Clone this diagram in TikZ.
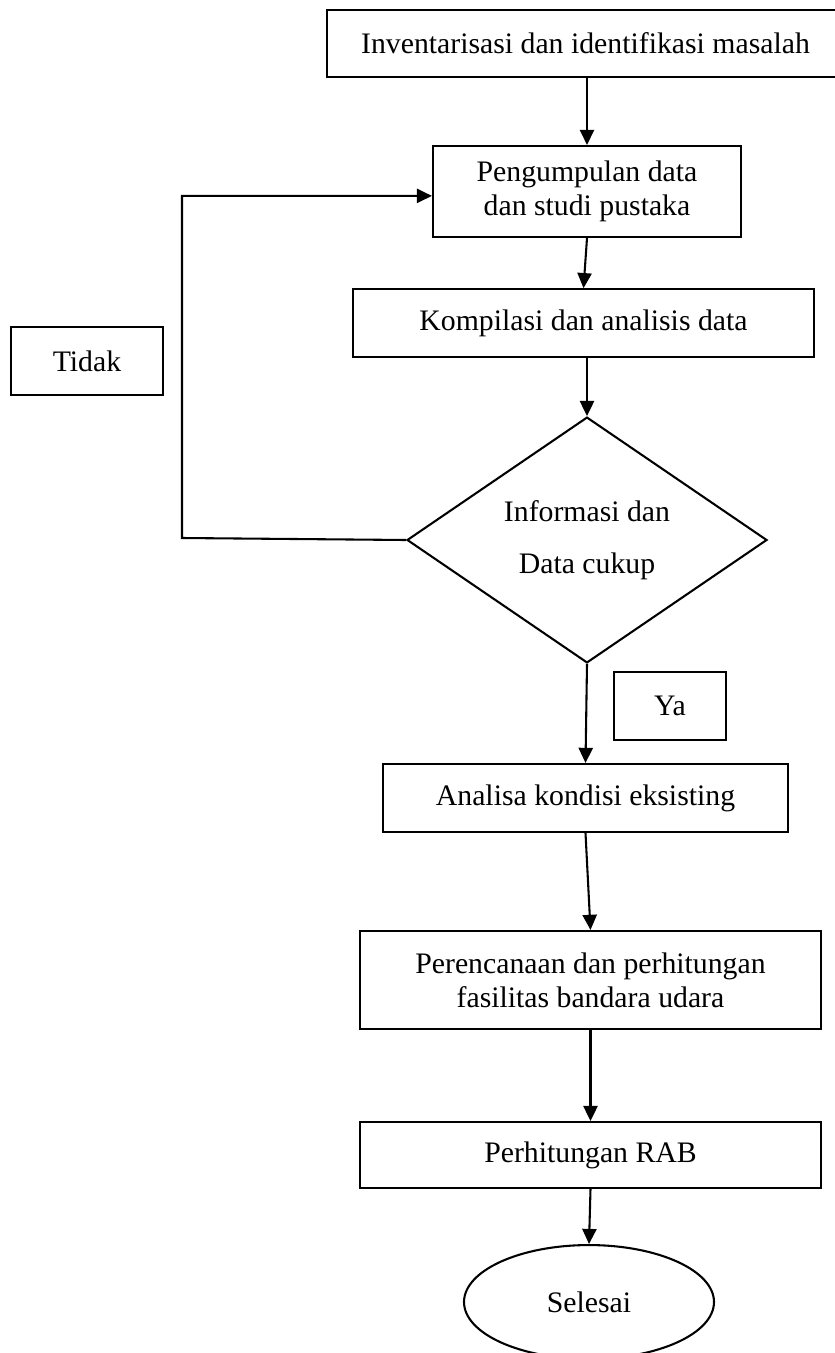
\documentclass[tikz,border=0pt]{standalone}
\usepackage{fontspec}
\setmainfont{Liberation Serif}
\usetikzlibrary{shapes.geometric, arrows.meta}

\begin{document}
\begin{tikzpicture}[x=0.41pt, y=-0.41pt, line width=0.85pt,
    box/.style={draw, rectangle, inner sep=0pt, align=center, font=\fontsize{12.2}{14}\selectfont},
    link/.style={-{Triangle[length=6.2pt, width=5.8pt]}}]
    \useasboundingbox (0,0) rectangle (835,1353);

    % Steps
    \node[box, minimum width=212pt, minimum height=27.5pt] (inventory) at (585.5,43.5) {Inventarisasi dan identifikasi masalah};
    \node[box, minimum width=126.3pt, minimum height=37.3pt] (collect) at (587,191.5) {Pengumpulan data\\dan studi pustaka};
    \node[box, minimum width=189pt, minimum height=27.7pt] (compile) at (583.5,323) {Kompilasi dan analisis data};
    \node[box, diamond, minimum width=147.6pt, minimum height=95.9pt] (enough) at (587,540) {Informasi dan\\[7.5pt]Data cukup};
    \node[box, minimum width=166pt, minimum height=27.9pt] (existing) at (585.5,798) {Analisa kondisi eksisting};
    \node[box, minimum width=189pt, minimum height=40.2pt] (planning) at (590.5,980) {Perencanaan dan perhitungan\\fasilitas bandara udara};
    \node[box, minimum width=189pt, minimum height=27pt] (budget) at (590.5,1155) {Perhitungan RAB};
    \node[box, ellipse, minimum width=102.5pt, minimum height=46.7pt] (finish) at (589,1302) {Selesai};

    % Labels
    \node[box, minimum width=62.3pt, minimum height=27.9pt] (no) at (87,361) {Tidak};
    \node[box, minimum width=45.9pt, minimum height=27.9pt] (yes) at (670,706) {Ya};

    % Connections
    \coordinate (loop) at (182,538);
    \draw[link] (inventory.south -| collect.north) -- (collect.north);
    \draw[link] (collect.south) -- (compile.north);
    \draw[link] (compile.south -| enough.north) -- (enough.north);
    \draw[link] (enough.west) -- (loop) |- ([yshift=-1.8pt]collect.west);
    \draw[link] (enough.south) -- (existing.north);
    \draw[link] (existing.south) -- (planning.north);
    \draw[link] (planning.south) -- (budget.north);
    \draw[link] (budget.south) -- (finish.north);
\end{tikzpicture}
\end{document}
